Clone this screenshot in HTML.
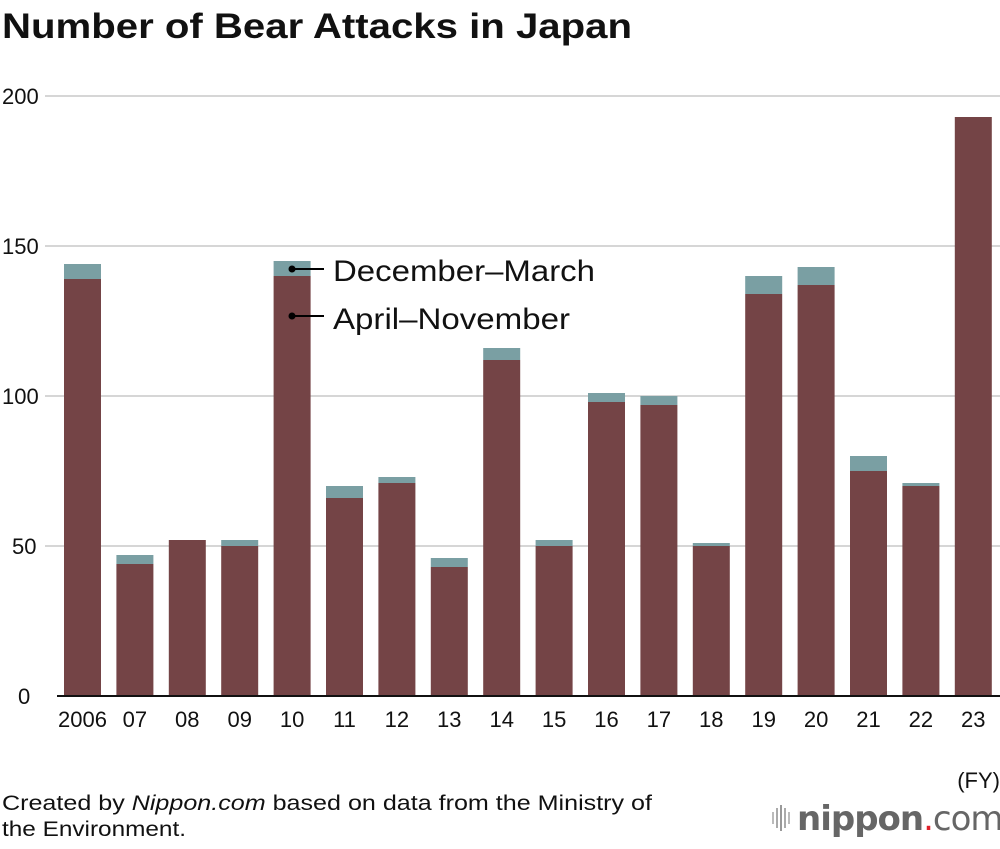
<!DOCTYPE html>
<html><head><meta charset="utf-8"><style>
body{margin:0;background:#fff;font-family:"Liberation Sans",sans-serif;}
</style></head><body>
<svg width="1000" height="844" xmlns="http://www.w3.org/2000/svg">
<text x="2" y="38" font-size="35" font-weight="bold" fill="#111" textLength="630" lengthAdjust="spacingAndGlyphs">Number of Bear Attacks in Japan</text>
<g id="grid"></g>
<g id="bars"></g>
<g id="xl"></g>
<text x="1000" y="788" font-size="22" text-anchor="end" fill="#111">(FY)</text>
<g>
<circle cx="292" cy="269" r="3.5" fill="#000"/><line x1="292" y1="269" x2="324" y2="269" stroke="#000" stroke-width="2"/>
<text x="333" y="281" font-size="30" fill="#111" textLength="262" lengthAdjust="spacingAndGlyphs">December–March</text>
<circle cx="292" cy="316" r="3.5" fill="#000"/><line x1="292" y1="316" x2="324" y2="316" stroke="#000" stroke-width="2"/>
<text x="333" y="329" font-size="30" fill="#111" textLength="237" lengthAdjust="spacingAndGlyphs">April–November</text>
</g>
<text x="2" y="810" font-size="21" fill="#111" textLength="650" lengthAdjust="spacingAndGlyphs">Created by <tspan font-style="italic">Nippon.com</tspan> based on data from the Ministry of</text>
<text x="2" y="836" font-size="21" fill="#111" textLength="184" lengthAdjust="spacingAndGlyphs">the Environment.</text>
<g>
<rect x="772" y="812" width="2" height="12" fill="#bbb"/><rect x="776" y="808" width="2" height="20" fill="#aaa"/><rect x="780" y="805" width="2" height="26" fill="#999"/><rect x="784" y="808" width="2" height="20" fill="#aaa"/><rect x="788" y="812" width="2" height="12" fill="#bbb"/>
<text x="797" y="830" font-size="34" font-family="DejaVu Sans, sans-serif" fill="#666" letter-spacing="-1"><tspan font-weight="bold">nippon</tspan><tspan fill="#e0202a">.</tspan><tspan>com</tspan></text>
</g>
</svg>
<script>
const years=["2006","07","08","09","10","11","12","13","14","15","16","17","18","19","20","21","22","23"];
const aprNov=[139,44,52,50,140,66,71,43,112,50,98,97,50,134,137,75,70,193];
const decMar=[5,3,0,2,5,4,2,3,4,2,3,3,1,6,6,5,1,0];
const yTicks=[0,50,100,150,200];
const NS="http://www.w3.org/2000/svg";
const y0=696,k=3,x0=64,step=52.4,bw=37;
const Y=v=>y0-v*k, X=i=>x0+i*step;
function mk(t,a,p){const e=document.createElementNS(NS,t);for(const n in a)e.setAttribute(n,a[n]);p.appendChild(e);return e;}
const g=document.getElementById('grid');
yTicks.forEach(t=>{
 if(t>0){const l=mk('line',{x1:45,x2:1000,y1:Y(t),y2:Y(t),stroke:'#c8c8c8','stroke-width':1.5},g);
 
 }
 const tx=mk('text',{x:t===0?18:t<100?12:2,y:Y(t)+8,'font-size':22,fill:'#111'},g);tx.textContent=t;
 
 
});
const b=document.getElementById('bars'),xl=document.getElementById('xl');
years.forEach((yr,i)=>{
 const r1=mk('rect',{x:X(i),y:Y(aprNov[i]),width:bw,height:aprNov[i]*k,fill:'#744446'},b);
 
 
 if(decMar[i]>0){const r2=mk('rect',{x:X(i),y:Y(aprNov[i]+decMar[i]),width:bw,height:decMar[i]*k,fill:'#7a9fa3'},b);
 
 }
 const t=mk('text',{x:X(i)+bw/2,y:727,'font-size':22,'text-anchor':'middle',fill:'#111'},xl);t.textContent=yr;
 
 
});
const ax=mk('line',{x1:57,x2:1000,y1:y0,y2:y0,stroke:'#111','stroke-width':2},b);


</script>
</body></html>
